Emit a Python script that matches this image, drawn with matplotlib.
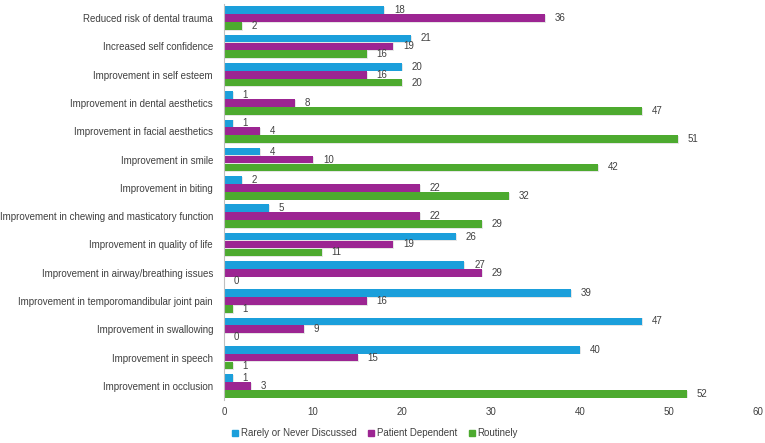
import numpy as np
import matplotlib.pyplot as plt
from matplotlib.patches import Patch

categories = [
    "Reduced risk of dental trauma",
    "Increased self confidence",
    "Improvement in self esteem",
    "Improvement in dental aesthetics",
    "Improvement in facial aesthetics",
    "Improvement in smile",
    "Improvement in biting",
    "Improvement in chewing and masticatory function",
    "Improvement in quality of life",
    "Improvement in airway/breathing issues",
    "Improvement in temporomandibular joint pain",
    "Improvement in swallowing",
    "Improvement in speech",
    "Improvement in occlusion",
]
rarely = [18, 21, 20, 1, 1, 4, 2, 5, 26, 27, 39, 47, 40, 1]
patient = [36, 19, 16, 8, 4, 10, 22, 22, 19, 29, 16, 9, 15, 3]
routinely = [2, 16, 20, 47, 51, 42, 32, 29, 11, 0, 1, 0, 1, 52]
series_names = ["Rarely or Never Discussed", "Patient Dependent", "Routinely"]
colors = ["#1b9fdb", "#9c2592", "#4daa2f"]
xticks = [0, 10, 20, 30, 40, 50, 60]

txt = "#404040"
plt.rcParams["font.family"] = ["Liberation Sans", "DejaVu Sans"]

fig = plt.figure(figsize=(7.65, 4.43), dpi=100)
ax = fig.add_axes([0.293, 0.097, 0.698, 0.894])

y = np.arange(len(categories))
h = 0.28
for i, (vals, c) in enumerate(zip([rarely, patient, routinely], colors)):
    pos = y + (i - 1) * h
    # faint shadow
    ax.barh(pos + 0.03, vals, height=h * 0.97, left=0.12, color="#000000", alpha=0.10, zorder=1)
    ax.barh(pos, vals, height=h * 0.97, color=c, zorder=2)
    for p, v in zip(pos, vals):
        ax.annotate(str(v), (v, p), xytext=(7, 0), textcoords="offset points",
                    ha="left", va="center", fontsize=7, color=txt)

ax.set_ylim(len(categories) - 0.5, -0.5)
ax.set_xlim(0, 60)
ax.set_xticks(xticks)
ax.set_yticks(y)
ax.set_yticklabels(categories, fontsize=7, color=txt)
ax.tick_params(axis="x", length=0, labelsize=7, labelcolor=txt, pad=5)
ax.tick_params(axis="y", length=0, pad=8)
for s in ["top", "right", "bottom"]:
    ax.spines[s].set_visible(False)
ax.spines["left"].set_color("#bfbfbf")
ax.spines["left"].set_linewidth(0.8)

handles = [Patch(color=c, label=n) for c, n in zip(colors, series_names)]
fig.legend(handles=handles, loc="center", bbox_to_anchor=(0.49, 0.022), ncol=3,
           frameon=False, fontsize=7, handlelength=0.6, handleheight=0.6,
           handletextpad=0.3, columnspacing=1.2, labelcolor=txt)

fig.savefig("out.png", dpi=100)
